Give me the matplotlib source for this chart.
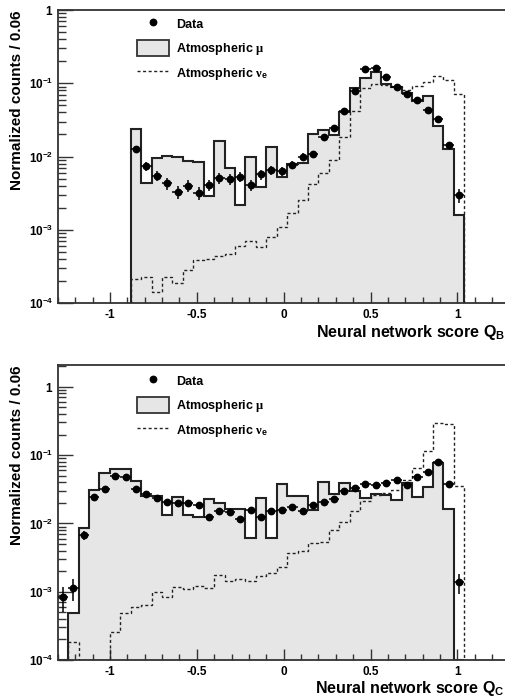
import numpy as np
import matplotlib
matplotlib.use("Agg")
import matplotlib.pyplot as plt
from matplotlib.lines import Line2D
from matplotlib.patches import Patch
from matplotlib.ticker import MultipleLocator, LogLocator, FuncFormatter, NullFormatter

plt.rcParams['font.family'] = ['Liberation Sans', 'DejaVu Sans']
plt.rcParams['font.weight'] = 'bold'
plt.rcParams['mathtext.fontset'] = 'custom'
plt.rcParams['mathtext.rm'] = 'Liberation Sans:bold'
plt.rcParams['mathtext.bf'] = 'Liberation Sans:bold'
plt.rcParams['mathtext.it'] = 'Liberation Serif'

# binning: width 0.06, both panels share the same grid
bin_width = 0.06

# ---- panel B (Q_B), bins from -0.88 to 1.04 ----
b_lo = -0.88
b_data = [0.0125, 0.0074, 0.0055, 0.0043, 0.0033, 0.0040, 0.0032, 0.0041,
          0.0051, 0.0049, 0.0053, 0.0041, 0.0057, 0.0065, 0.0063, 0.0077,
          0.0099, 0.0108, 0.0187, 0.0242, 0.0418, 0.079, 0.155, 0.161,
          0.123, 0.088, 0.071, 0.059, 0.043, 0.0328, 0.0142, 0.00295]
b_err = [0.0013, 0.0010, 0.00086, 0.00076, 0.00066, 0.00073, 0.00065, 0.00074,
         0.00083, 0.0008, 0.00084, 0.00074, 0.00087, 0.00093, 0.00092, 0.0010,
         0.00115, 0.0012, 0.0016, 0.0018, 0.0024, 0.0032, 0.0045, 0.0046,
         0.0040, 0.0034, 0.0031, 0.0028, 0.0024, 0.0021, 0.0014, 0.00063]
b_mu = [0.0237, 0.0043, 0.0096, 0.0102, 0.0097, 0.0087, 0.0085, 0.0029,
        0.0163, 0.0070, 0.0022, 0.0098, 0.0038, 0.0136, 0.0053, 0.0079,
        0.0081, 0.0201, 0.0230, 0.0196, 0.0409, 0.087, 0.118, 0.142,
        0.097, 0.090, 0.073, 0.058, 0.067, 0.0264, 0.0127, 0.0016]
b_nue = [2.13e-4, 2.3e-4, 1.43e-4, 2.3e-4, 1.9e-4, 2.8e-4, 3.86e-4, 4.0e-4,
         4.4e-4, 4.6e-4, 6.0e-4, 7.0e-4, 5.9e-4, 8.0e-4, 1.08e-3, 1.71e-3,
         2.55e-3, 4.2e-3, 6.0e-3, 9.1e-3, 0.0183, 0.0422, 0.087, 0.097,
         0.094, 0.090, 0.082, 0.092, 0.105, 0.126, 0.111, 0.071]

# ---- panel C (Q_C), bins from -1.30 to 1.04 ----
c_lo = -1.30
c_data = [8.4e-4, 1.12e-3, 6.7e-3, 0.0245, 0.0315, 0.0498, 0.047, 0.032,
          0.0269, 0.0232, 0.0205, 0.0196, 0.020, 0.0185, 0.0126, 0.0152,
          0.0145, 0.0116, 0.0157, 0.0125, 0.0152, 0.0155, 0.0175, 0.0151,
          0.0185, 0.0207, 0.0224, 0.0297, 0.0333, 0.0376, 0.0364, 0.0385,
          0.043, 0.0364, 0.047, 0.0557, 0.078, 0.0372, 1.37e-3]
c_err = [3.3e-4, 4.0e-4, 1.0e-3, 1.9e-3, 2.1e-3, 2.7e-3, 2.6e-3, 2.1e-3,
         2.0e-3, 1.8e-3, 1.7e-3, 1.7e-3, 1.7e-3, 1.6e-3, 1.3e-3, 1.5e-3,
         1.4e-3, 1.3e-3, 1.5e-3, 1.3e-3, 1.5e-3, 1.5e-3, 1.6e-3, 1.5e-3,
         1.6e-3, 1.7e-3, 1.8e-3, 2.1e-3, 2.2e-3, 2.3e-3, 2.3e-3, 2.3e-3,
         2.5e-3, 2.3e-3, 2.6e-3, 2.8e-3, 3.3e-3, 2.3e-3, 4.5e-4]
c_mu = [0.0, 4.8e-4, 8.6e-3, 0.0307, 0.055, 0.062, 0.063, 0.042,
        0.0254, 0.0254, 0.0132, 0.0245, 0.0132, 0.0125, 0.0230, 0.0198,
        0.0165, 0.0165, 0.0061, 0.0235, 0.0062, 0.0372, 0.0256, 0.0256,
        0.0157, 0.0407, 0.0272, 0.0394, 0.030, 0.0232, 0.0269, 0.026,
        0.0219, 0.0385, 0.0245, 0.0344, 0.077, 0.016, 0.0]
c_nue = [0.0, 1.85e-4, 0.0, 0.0, 0.0, 2.6e-4, 4.8e-4, 5.9e-4,
         6.4e-4, 1.0e-3, 8.4e-4, 1.18e-3, 1.09e-3, 1.2e-3, 1.12e-3, 1.75e-3,
         1.45e-3, 1.55e-3, 1.43e-3, 1.7e-3, 1.85e-3, 2.3e-3, 3.7e-3, 4.0e-3,
         5.2e-3, 5.3e-3, 8.0e-3, 0.0105, 0.0151, 0.0214, 0.026, 0.0275,
         0.0307, 0.043, 0.064, 0.115, 0.297, 0.281, 0.0352]

x_ticks = [-1, -0.5, 0, 0.5, 1]
ymin = 1e-4


def log_fmt(v, pos):
    e = int(round(np.log10(v)))
    if e == 0:
        return r'$\mathbf{1}$'
    return r'$\mathbf{10^{%d}}$' % e


def draw_panel(ax, lo, data, err, mu, nue, ymax, xlabel, leg_top, lab_y):
    n = len(data)
    edges = lo + bin_width * np.arange(n + 1)
    centers = edges[:-1] + bin_width / 2
    mu = np.clip(mu, ymin, None)
    nue = np.clip(nue, ymin, None)

    ax.stairs(mu, edges, baseline=ymin, fill=True, color='#e6e6e6', zorder=1)
    ax.stairs(mu, edges, baseline=ymin, color='#222222', lw=1.5, zorder=2)
    ax.stairs(nue, edges, baseline=ymin, color='#222222', lw=1.0,
              ls=(0, (2.2, 1.8)), zorder=3)
    ax.errorbar(centers, data, yerr=err, xerr=bin_width / 2, fmt='o',
                color='black', ms=4.6, elinewidth=1.1, capsize=0, zorder=4)

    ax.set_yscale('log')
    ax.set_xlim(-1.3, 1.3)
    ax.set_ylim(ymin, ymax)
    ax.set_xticks(x_ticks)
    ax.xaxis.set_major_formatter(FuncFormatter(lambda v, p: '%g' % v))
    ax.xaxis.set_minor_locator(MultipleLocator(0.1))
    ax.yaxis.set_major_locator(LogLocator(base=10, numticks=10))
    ax.yaxis.set_minor_locator(LogLocator(base=10, subs=np.arange(2, 10), numticks=20))
    ax.yaxis.set_major_formatter(FuncFormatter(log_fmt))
    ax.yaxis.set_minor_formatter(NullFormatter())
    ax.tick_params(which='both', direction='in', top=False, right=False,
                   labelsize=8.5, width=1.0, color='#333333')
    ax.tick_params(axis='y', which='major', length=11, pad=3)
    ax.tick_params(axis='y', which='minor', length=6)
    ax.tick_params(axis='x', which='major', length=8, pad=4)
    ax.tick_params(axis='x', which='minor', length=4)
    for s in ax.spines.values():
        s.set_linewidth(1.3)
        s.set_color('#333333')

    ax.set_xlabel(xlabel, fontsize=11.5, fontweight='bold', ha='right')
    ax.xaxis.set_label_coords(0.99, lab_y, transform=ax.transAxes)
    ax.xaxis.label.set_va('top')
    ax.set_ylabel('Normalized counts / 0.06', loc='top', fontsize=11,
                  fontweight='bold', labelpad=4)

    handles = [Line2D([], [], marker='o', ls='none', color='black', ms=4.6),
               Patch(facecolor='#e6e6e6', edgecolor='#333333', lw=1.3),
               Line2D([], [], color='#222222', lw=1.0, ls=(0, (2.2, 1.8)))]
    labels = ['Data', r'Atmospheric $\mu$', r'Atmospheric $\nu_{\mathbf{e}}$']
    ax.legend(handles, labels, loc='upper left', bbox_to_anchor=(0.175, leg_top),
              frameon=False, fontsize=9, handlelength=2.6, handleheight=1.6,
              labelspacing=0.62, handletextpad=0.55, borderpad=0,
              borderaxespad=0)


fig = plt.figure(figsize=(5.06, 7.0), dpi=100)
ax_b = fig.add_axes([0.1142, 0.5671, 0.8927, 0.4186])
ax_c = fig.add_axes([0.1142, 0.0571, 0.8927, 0.4214])

draw_panel(ax_b, b_lo, b_data, b_err, b_mu, b_nue, 1.0,
           r'Neural network score $\mathbf{Q_B}$', 0.98, -0.068)
draw_panel(ax_c, c_lo, c_data, c_err, c_mu, c_nue, 2.08,
           r'Neural network score $\mathbf{Q_C}$', 0.973, -0.066)

fig.savefig('out.png', dpi=100)
